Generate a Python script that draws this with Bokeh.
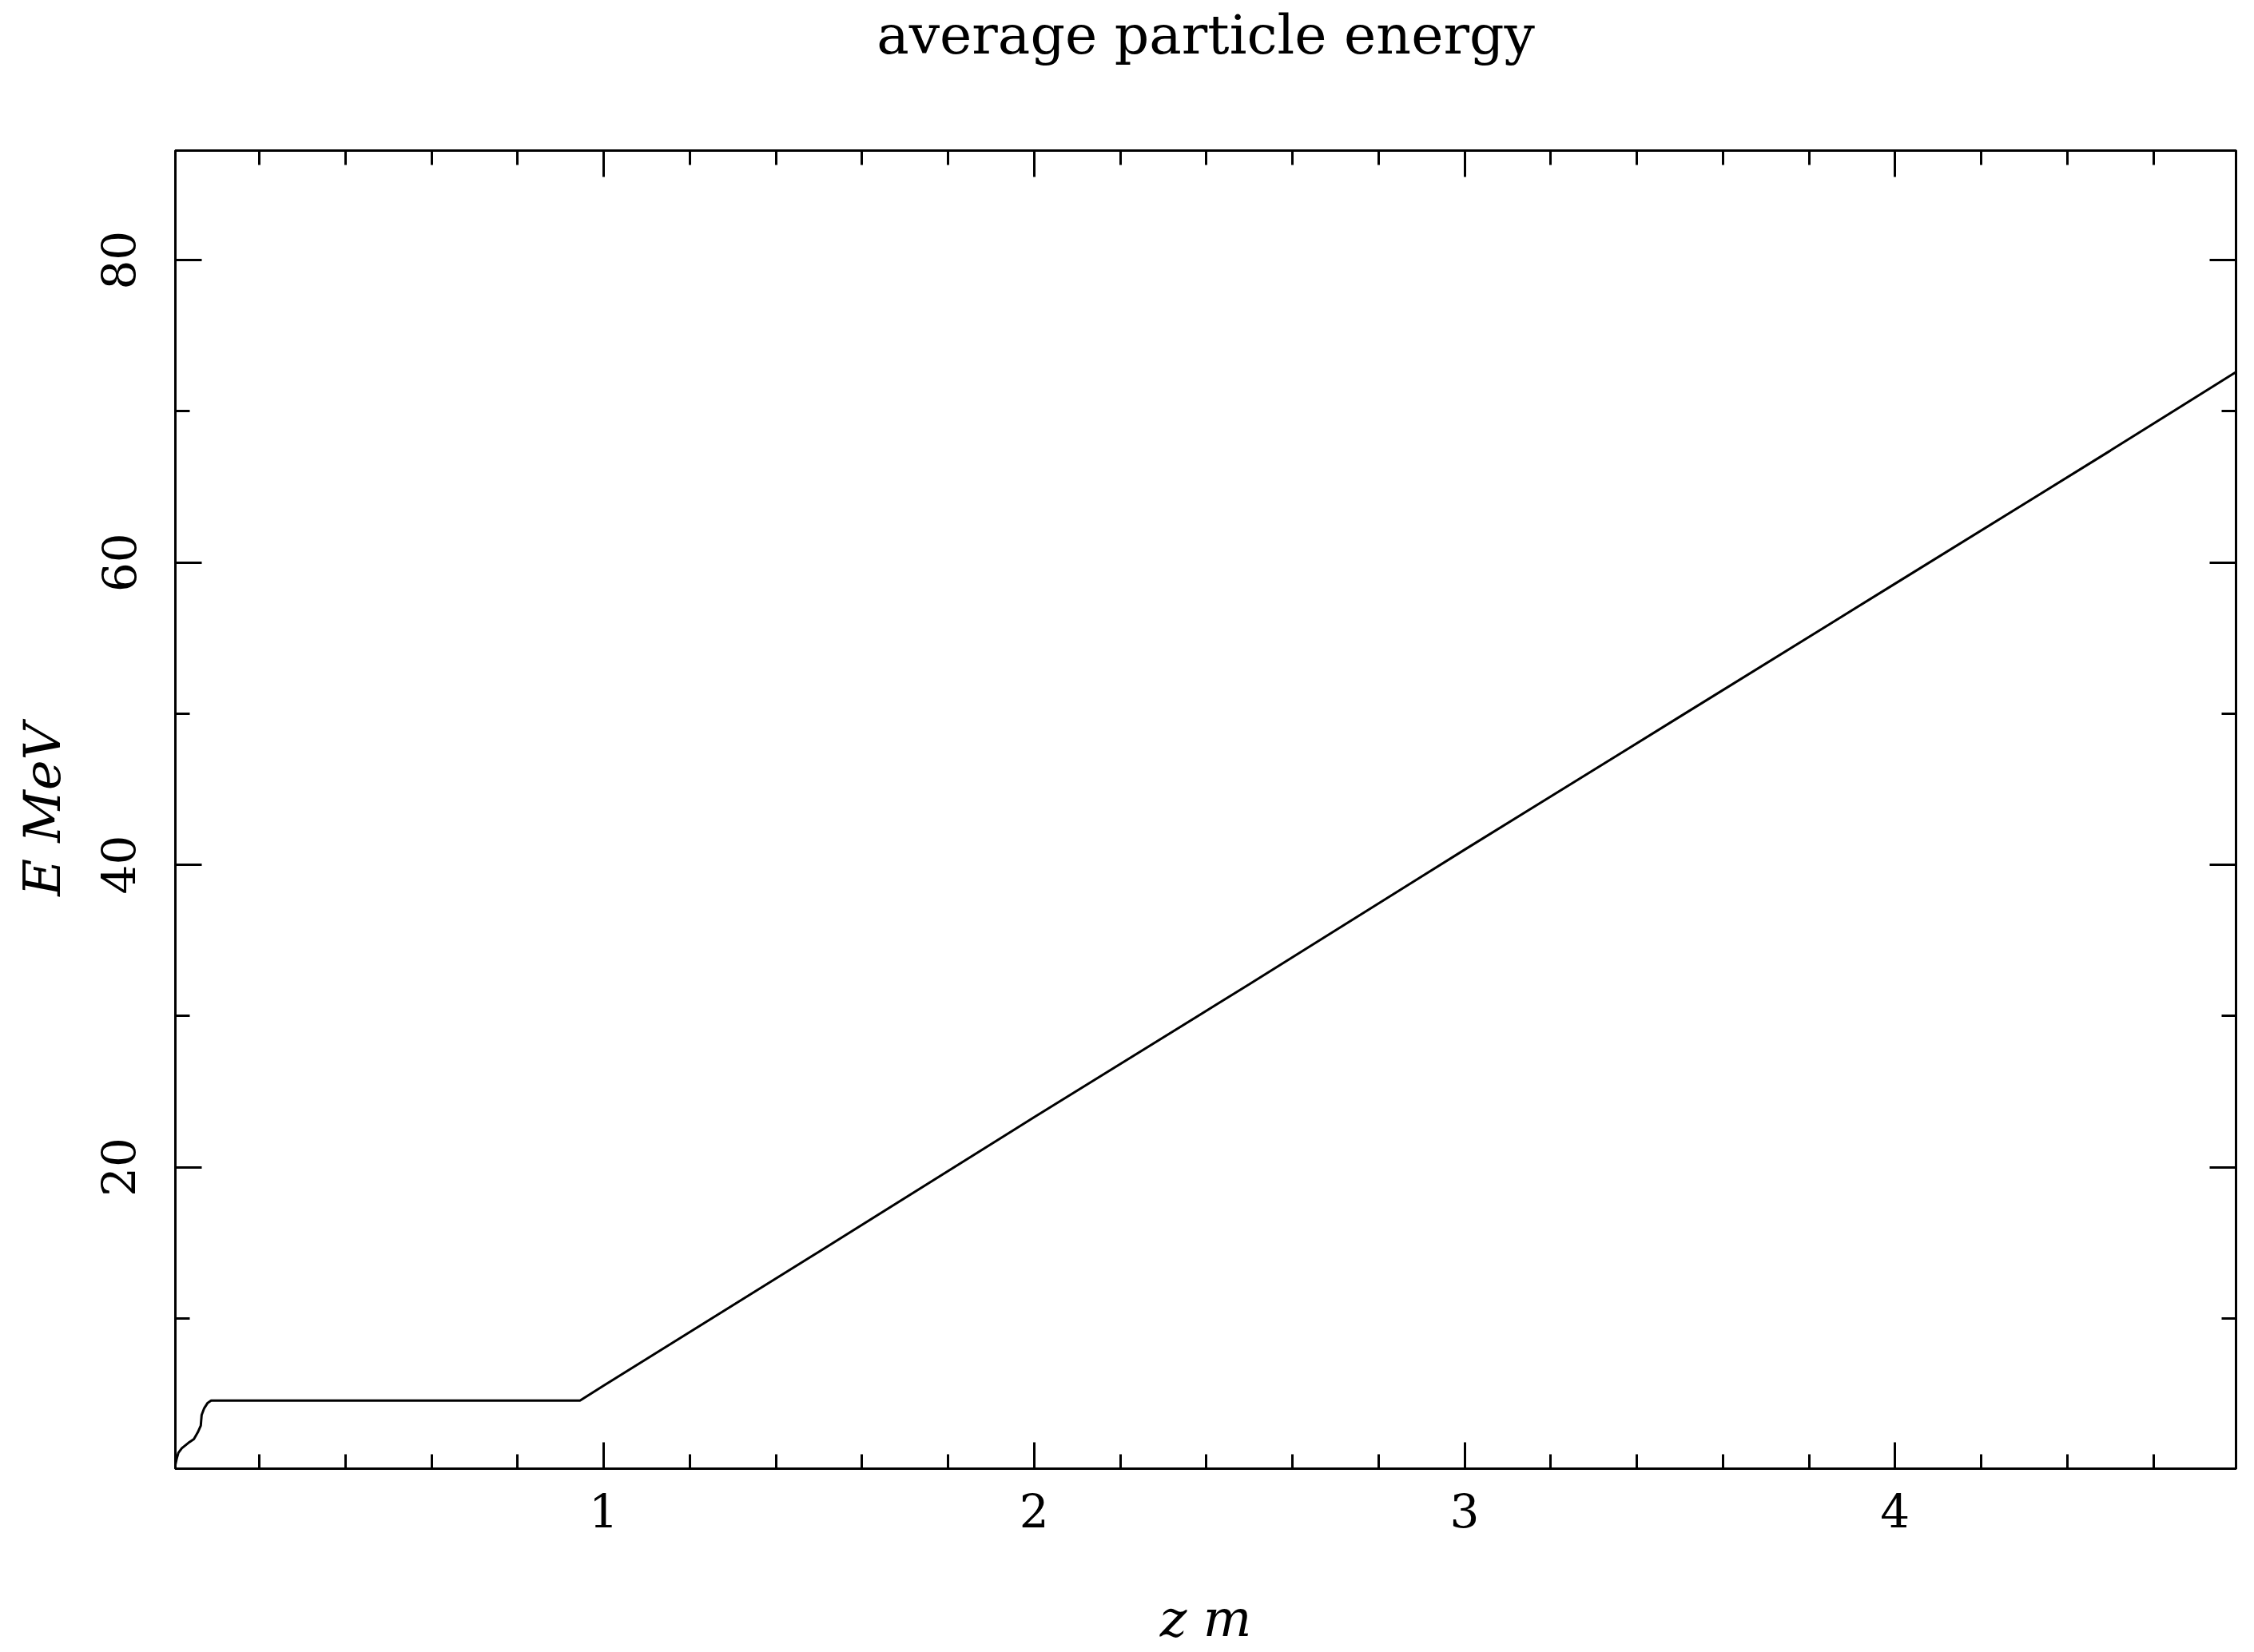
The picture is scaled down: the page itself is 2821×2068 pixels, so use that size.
from bokeh.plotting import figure
from bokeh.models import LinearAxis, FixedTicker, Range1d, ColumnDataSource
from bokeh.embed import file_html
from bokeh.resources import INLINE

# ---- data ----
z_m = [0.005, 0.008, 0.012, 0.020, 0.035, 0.048, 0.057, 0.064, 0.066, 0.072,
       0.080, 0.088, 0.945, 1.0, 1.5, 2.0, 2.5, 3.0, 3.5, 4.0, 4.5, 4.792]
E_MeV = [0.3, 0.7, 1.1, 1.4, 1.75, 2.0, 2.45, 2.9, 3.6, 4.05,
         4.4, 4.55, 4.55, 5.55, 14.4, 23.3, 32.1, 41.0, 49.8, 58.6, 67.4, 72.6]

x_major = [1, 2, 3, 4]
x_minor = [0.2, 0.4, 0.6, 0.8, 1.2, 1.4, 1.6, 1.8, 2.2, 2.4, 2.6, 2.8,
           3.2, 3.4, 3.6, 3.8, 4.2, 4.4, 4.6]
y_major = [20, 40, 60, 80]
y_minor = [10, 30, 50, 70]

title_text = "average particle energy"
x_label = "z m"
y_label = "E MeV"

SERIF = "DejaVu Serif"
FW, FH = 2579, 1650

p = figure(frame_width=FW, frame_height=FH,
           x_range=Range1d(0.005, 4.792), y_range=Range1d(0.05, 87.25),
           output_backend="svg", toolbar_location=None,
           min_border_left=219, min_border_right=15,
           min_border_top=188, min_border_bottom=230,
           background_fill_color="white", border_fill_color="white")

p.xgrid.visible = False
p.ygrid.visible = False
p.outline_line_color = "black"
p.outline_line_width = 3

src = ColumnDataSource(dict(z=z_m, E=E_MeV))
p.line("z", "E", source=src, line_color="black", line_width=3)

xt = FixedTicker(ticks=x_major, minor_ticks=x_minor)
yt = FixedTicker(ticks=y_major, minor_ticks=y_minor)


def style(ax, ticker):
    ax.ticker = ticker
    ax.axis_line_color = "black"
    ax.axis_line_width = 3
    ax.major_tick_line_color = "black"
    ax.minor_tick_line_color = "black"
    ax.major_tick_line_width = 3
    ax.minor_tick_line_width = 3
    ax.major_tick_in = 33
    ax.major_tick_out = 0
    ax.minor_tick_in = 18
    ax.minor_tick_out = 0
    ax.major_label_text_font = SERIF
    ax.major_label_text_color = "black"
    ax.axis_label_text_font = SERIF
    ax.axis_label_text_font_style = "italic"
    ax.axis_label_text_color = "black"


xa = p.xaxis[0]
style(xa, xt)
xa.major_label_text_font_size = "58px"
xa.major_label_standoff = 30
xa.axis_label = x_label
xa.axis_label_text_font_size = "64px"
xa.axis_label_standoff = 74

ya = p.yaxis[0]
style(ya, yt)
ya.major_label_text_font_size = "58px"
ya.major_label_orientation = "parallel"
ya.major_label_standoff = 50
ya.axis_label = y_label
ya.axis_label_text_font_size = "64px"
ya.axis_label_standoff = 34

# top axis: ticks only; its (white, tiny) labels reserve room below the title
top = LinearAxis()
style(top, xt)
top.major_label_text_font_size = "1px"
top.major_label_text_color = "white"
top.major_label_standoff = 102
p.add_layout(top, "above")

right = LinearAxis()
style(right, yt)
right.major_label_text_font_size = "1px"
right.major_label_text_alpha = 0
right.major_label_standoff = 0
p.add_layout(right, "right")

p.title.text = title_text
p.title.text_font = SERIF
p.title.text_font_style = "normal"
p.title.text_font_size = "68px"
p.title.align = "center"
p.title.text_color = "black"
p.title.standoff = 0

open("out.html", "w").write(file_html(p, INLINE))
